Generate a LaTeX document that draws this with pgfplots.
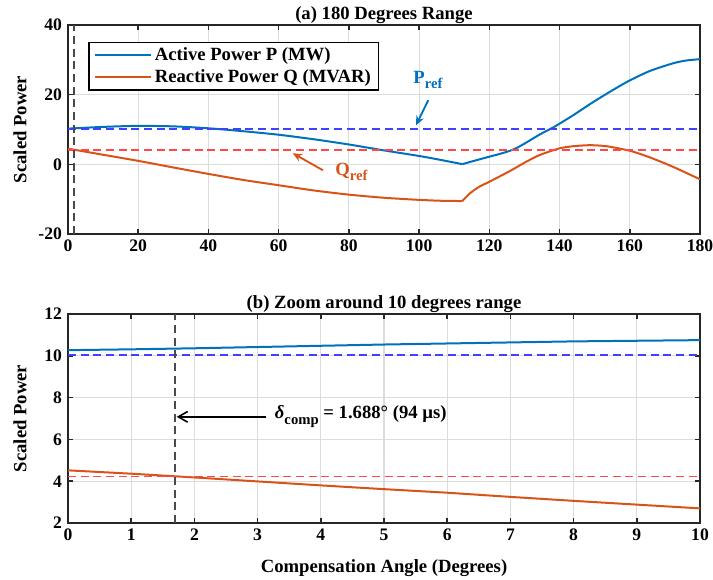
\documentclass[border=0pt]{standalone}
\usepackage{fontspec}
\setmainfont{Liberation Serif}
\usepackage{pgfplots}
\pgfplotsset{compat=1.18}
\usetikzlibrary{arrows.meta}
\definecolor{mblue}{HTML}{0072BD}
\definecolor{morange}{HTML}{D95319}
\definecolor{rblue}{HTML}{4040FF}
\definecolor{rred}{HTML}{FF4848}
\definecolor{vgray}{HTML}{4A4A4A}
\definecolor{gridc}{HTML}{DCDCDC}
\definecolor{axc}{HTML}{262626}
\newcommand{\tf}{\bfseries\fontsize{14}{16}\selectfont}
\newcommand{\tk}{\bfseries\fontsize{13.2}{15}\selectfont}
\pgfplotsset{
  every axis title shift=0pt,
  mystyle/.style={
    scale only axis, width=474pt, height=156.75pt,
    axis line style={axc, line width=1.1pt},
    grid=major, major grid style={gridc, line width=0.8pt},
    tick align=inside, major tick length=4pt,
    tick style={axc, line width=1.1pt},
    /pgf/number format/assume math mode=true,
    ticklabel style={font=\tk},
    title style={font=\tf, at={(axis description cs:0.5,1)}, anchor=south, inner sep=1pt},
    ylabel={Scaled Power},
    ylabel style={font=\tf, at={(axis description cs:-0.076,0.5)}, anchor=center, rotate=0},
    xticklabel style={yshift=-1pt},
    yticklabel style={xshift=-1pt},
    refdash/.style={line width=1.3pt, dash pattern=on 6pt off 3.5pt},
  }
}
\begin{document}
\begin{tikzpicture}
\path[use as bounding box] (-51pt,18.75pt) rectangle (483.75pt,-415.5pt);
\begin{axis}[mystyle, at={(0pt,0pt)}, anchor=north west,
  xmin=0, xmax=180, ymin=-20, ymax=40,
  xtick={0,20,...,180}, ytick={-20,0,20,40},
  title={(a) 180 Degrees Range},
  legend style={at={(axis description cs:0.032,0.919)}, anchor=north west,
    draw=black, line width=1pt, font=\tf, row sep=1pt,
    inner xsep=4pt, inner ysep=2pt, cells={anchor=west}},
  legend image code/.code={\draw[#1] (0pt,0pt) -- (42pt,0pt);},
]
\addplot[mblue, line width=1.5pt, smooth, tension=0.4] coordinates {
(0,10.25) (10,10.75) (20,11.05) (30,10.9) (40,10.35) (50,9.5) (60,8.5) (70,7.2)
(80,5.7) (90,4.0) (100,2.4) (106,1.3) (112.3,0.05)};
\addlegendentry{Active Power P (MW)}
\addplot[morange, line width=1.5pt, smooth, tension=0.4] coordinates {
(0,4.5) (10,2.75) (20,1.0) (30,-0.9) (40,-2.75) (50,-4.5) (60,-6.0) (70,-7.5)
(80,-8.7) (90,-9.6) (100,-10.2) (106,-10.45) (112.3,-10.55)};
\addlegendentry{Reactive Power Q (MVAR)}
\addplot[mblue, line width=1.5pt, smooth, tension=0.4, forget plot] coordinates {
(112.3,0.05) (116,1.1) (120,2.2) (123,3.0) (125.9,3.9) (128,4.8) (130.6,6.3)
(134.4,8.6) (138.2,10.6) (143.9,14.1) (149.6,17.9) (155.3,21.4) (160,24.1)
(165.7,26.8) (172.3,29.0) (176,29.8) (180,30.2)};
\addplot[morange, line width=1.5pt, smooth, tension=0.4, forget plot] coordinates {
(112.3,-10.55) (114.5,-8.3) (117,-6.5) (120,-5.0) (125.9,-1.9) (130.6,0.8)
(134.4,2.7) (140,4.6) (143.9,5.2) (148.6,5.5) (153.4,5.2) (160,3.9) (165.7,2.0)
(172.3,-0.7) (180,-4.3)};
\addplot[rblue, refdash, forget plot] coordinates {(0,10.05) (180,10.05)};
\addplot[rred, refdash, forget plot] coordinates {(0,4.22) (180,4.22)};
\addplot[vgray, refdash, forget plot] coordinates {(1.688,-20) (1.688,40)};
\node[text=mblue, font=\tf] at (axis cs:102.5,24.2) {P\raisebox{-0.55ex}{\fontsize{11}{12}\selectfont ref}};
\draw[mblue, line width=1.4pt, -{Stealth[length=7pt,width=6pt]}] (axis cs:102.6,18.4) -- (axis cs:99.1,11.2);
\node[text=morange, font=\tf, anchor=west] at (axis cs:74.8,-2.2) {Q\raisebox{-0.55ex}{\fontsize{11}{12}\selectfont ref}};
\draw[morange, line width=1.4pt, -{Stealth[length=7pt,width=6pt]}] (axis cs:72.6,-1.7) -- (axis cs:64,3.2);
\end{axis}
\begin{axis}[mystyle, at={(0pt,-216.75pt)}, anchor=north west,
  xmin=0, xmax=10, ymin=2, ymax=12,
  xtick={0,1,...,10}, ytick={2,4,...,12},
  title={(b) Zoom around 10 degrees range},
  xlabel={Compensation Angle (Degrees)},
  xlabel style={font=\tf, at={(axis description cs:0.5,-0.215)}, anchor=center},
]
\addplot[mblue, line width=1.5pt] coordinates {
(0,10.27) (1,10.31) (2,10.36) (3,10.42) (4,10.48) (5,10.54) (6,10.59) (7,10.64) (8,10.69) (9,10.72) (10,10.75)};
\addplot[morange, line width=1.5pt] coordinates {
(0,4.52) (1,4.36) (2,4.18) (3,3.99) (4,3.80) (5,3.62) (6,3.45) (7,3.25) (8,3.06) (9,2.88) (10,2.70)};
\addplot[rblue, refdash] coordinates {(0,10.05) (10,10.05)};
\addplot[rred, refdash] coordinates {(0,4.22) (10,4.22)};
\addplot[vgray, refdash] coordinates {(1.688,2) (1.688,12)};
\draw[black, line width=1.2pt, -{Straight Barb[length=7pt,width=8pt]}] (axis cs:3.14,7.08) -- (axis cs:1.72,7.08);
\node[font=\tf, anchor=west, inner sep=0pt] at (axis cs:3.27,7.08) {\textit{δ}\raisebox{-0.7ex}{\fontsize{11}{12}\selectfont comp} = 1.688° (94 µs)};
\end{axis}
\end{tikzpicture}
\end{document}
